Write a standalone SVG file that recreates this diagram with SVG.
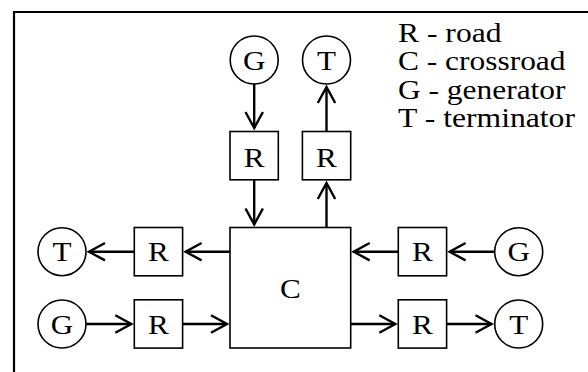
<svg xmlns="http://www.w3.org/2000/svg" width="588" height="372" viewBox="0 0 588 372">
  <style>
    .shape { fill: #fff; stroke: #000; stroke-width: 1.6; }
    .label { font-family: "Liberation Serif", "Times New Roman", serif; font-size: 28px; fill: #000; text-anchor: middle; }
    .legend { font-family: "Liberation Serif", "Times New Roman", serif; font-size: 28px; fill: #000; }
    .wire { stroke: #000; stroke-width: 2.4; fill: none; marker-end: url(#chevron); }
  </style>
  <defs>
    <marker id="chevron" markerUnits="userSpaceOnUse" markerWidth="24" markerHeight="24" viewBox="-20 -12 24 24" refX="0" refY="0" orient="auto">
      <path d="M-16,-8.7 L0,0 L-16,8.7" fill="none" stroke="#000" stroke-width="2.4" stroke-linejoin="miter"/>
    </marker>
  </defs>

  <rect width="588" height="372" fill="#fff"/>
  <!-- frame: top and left edges only -->
  <path d="M14,372 V12 H588" fill="none" stroke="#000" stroke-width="2.2"/>

  <!-- legend (glyphs slightly widened) -->
  <g id="legend">
    <text class="legend" x="398" y="41.5" textLength="103.5" lengthAdjust="spacingAndGlyphs">R - road</text>
    <text class="legend" x="398" y="70" textLength="167.5" lengthAdjust="spacingAndGlyphs">C - crossroad</text>
    <text class="legend" x="398" y="98.5" textLength="167.5" lengthAdjust="spacingAndGlyphs">G - generator</text>
    <text class="legend" x="398" y="127" textLength="177" lengthAdjust="spacingAndGlyphs">T - terminator</text>
  </g>

  <!-- connectors -->
  <g id="connectors">
    <line class="wire" x1="254.2" y1="84" x2="254.2" y2="128"/>
    <line class="wire" x1="254.2" y1="179.8" x2="254.2" y2="224.5"/>
    <line class="wire" x1="326.5" y1="227.5" x2="326.5" y2="183"/>
    <line class="wire" x1="326.5" y1="131.5" x2="326.5" y2="87"/>
    <line class="wire" x1="230" y1="251.7" x2="185.6" y2="251.7"/>
    <line class="wire" x1="134.3" y1="251.7" x2="89" y2="251.7"/>
    <line class="wire" x1="86.2" y1="324" x2="131.3" y2="324"/>
    <line class="wire" x1="182.6" y1="324" x2="227" y2="324"/>
    <line class="wire" x1="494.5" y1="251.7" x2="449.6" y2="251.7"/>
    <line class="wire" x1="398.3" y1="251.7" x2="353.7" y2="251.7"/>
    <line class="wire" x1="350.7" y1="324" x2="395.3" y2="324"/>
    <line class="wire" x1="446.6" y1="324" x2="491.5" y2="324"/>
  </g>

  <!-- crossroad -->
  <g id="crossroad">
    <rect class="shape" x="230" y="227.5" width="120.7" height="120.5"/>
    <text class="label" x="290.3" y="297.5" textLength="20.8" lengthAdjust="spacingAndGlyphs">C</text>
  </g>

  <!-- top branch -->
  <g id="gen-top">
    <circle class="shape" cx="254.2" cy="60" r="24"/>
    <text class="label" x="254.2" y="69.5" textLength="22.4" lengthAdjust="spacingAndGlyphs">G</text>
  </g>
  <g id="term-top">
    <circle class="shape" cx="326.5" cy="60" r="24"/>
    <text class="label" x="326.5" y="69.5" textLength="19" lengthAdjust="spacingAndGlyphs">T</text>
  </g>
  <g id="road-top-in">
    <rect class="shape" x="230" y="131.5" width="48.3" height="48.3"/>
    <text class="label" x="254.2" y="166.5" textLength="20.8" lengthAdjust="spacingAndGlyphs">R</text>
  </g>
  <g id="road-top-out">
    <rect class="shape" x="302.4" y="131.5" width="48.3" height="48.3"/>
    <text class="label" x="326.5" y="166.5" textLength="20.8" lengthAdjust="spacingAndGlyphs">R</text>
  </g>

  <!-- left branch -->
  <g id="term-left">
    <circle class="shape" cx="62" cy="251.7" r="24"/>
    <text class="label" x="62" y="261.3" textLength="19" lengthAdjust="spacingAndGlyphs">T</text>
  </g>
  <g id="road-left-out">
    <rect class="shape" x="134.3" y="227.5" width="48.3" height="48.3"/>
    <text class="label" x="158.4" y="261.3" textLength="20.8" lengthAdjust="spacingAndGlyphs">R</text>
  </g>
  <g id="gen-left">
    <circle class="shape" cx="62" cy="324" r="24"/>
    <text class="label" x="62" y="333.6" textLength="22.4" lengthAdjust="spacingAndGlyphs">G</text>
  </g>
  <g id="road-left-in">
    <rect class="shape" x="134.3" y="299.8" width="48.3" height="48.3"/>
    <text class="label" x="158.4" y="333.6" textLength="20.8" lengthAdjust="spacingAndGlyphs">R</text>
  </g>

  <!-- right branch -->
  <g id="road-right-in">
    <rect class="shape" x="398.3" y="227.5" width="48.3" height="48.3"/>
    <text class="label" x="422.4" y="261.3" textLength="20.8" lengthAdjust="spacingAndGlyphs">R</text>
  </g>
  <g id="gen-right">
    <circle class="shape" cx="518.7" cy="251.7" r="24"/>
    <text class="label" x="518.7" y="261.3" textLength="22.4" lengthAdjust="spacingAndGlyphs">G</text>
  </g>
  <g id="road-right-out">
    <rect class="shape" x="398.3" y="299.8" width="48.3" height="48.3"/>
    <text class="label" x="422.4" y="333.6" textLength="20.8" lengthAdjust="spacingAndGlyphs">R</text>
  </g>
  <g id="term-right">
    <circle class="shape" cx="518.7" cy="324" r="24"/>
    <text class="label" x="518.7" y="333.6" textLength="19" lengthAdjust="spacingAndGlyphs">T</text>
  </g>
</svg>
